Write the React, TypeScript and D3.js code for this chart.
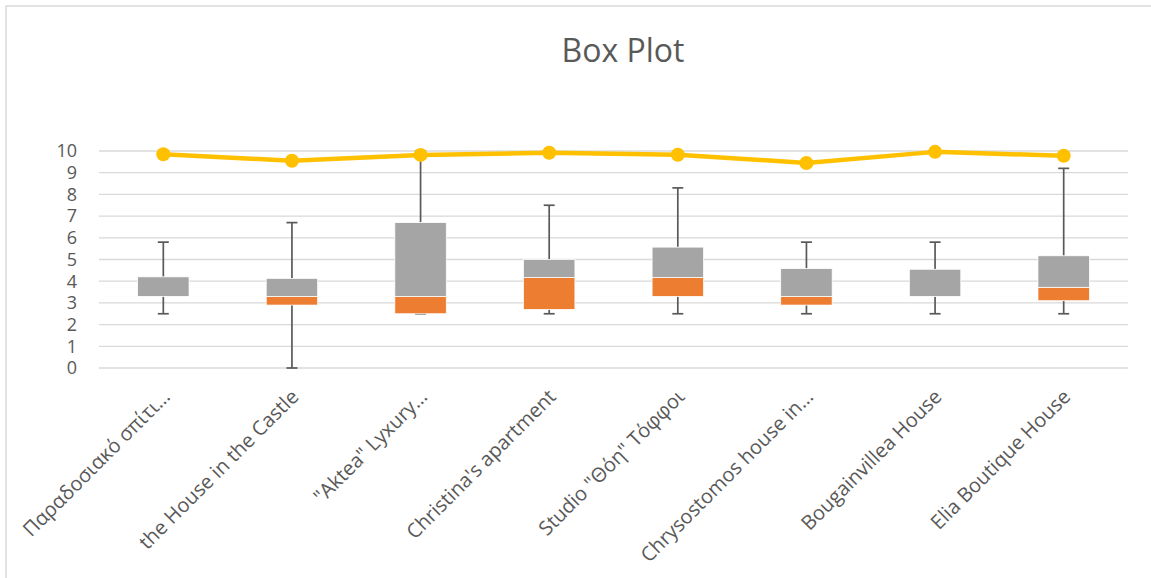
import React, { useEffect, useRef } from 'react';
import * as d3 from 'd3';

const categories = [
  'Παραδοσιακό σπίτι…',
  'the House in the Castle',
  '"Aktea" Lyxury…',
  "Christina's apartment",
  'Studio "Θόη" Τόφφοι',
  'Chrysostomos house in…',
  'Bougainvillea House',
  'Elia Boutique House',
];
const minVals = [2.5, 0, 2.5, 2.5, 2.5, 2.5, 2.5, 2.5];
const q1Vals = [3.3, 2.9, 2.5, 2.7, 3.3, 2.9, 3.3, 3.1];
const medianVals = [3.3, 3.3, 3.3, 4.17, 4.17, 3.3, 3.3, 3.72];
const q3Vals = [4.2, 4.13, 6.7, 5.0, 5.57, 4.58, 4.55, 5.17];
const maxVals = [5.8, 6.7, 10, 7.5, 8.3, 5.8, 5.8, 9.2];
const lineVals = [9.85, 9.55, 9.82, 9.92, 9.83, 9.45, 9.96, 9.78];
const yTicks = [0, 1, 2, 3, 4, 5, 6, 7, 8, 9, 10];

const W = 1151;
const H = 578;
const font = '"Open Sans", sans-serif';
const textColor = '#595959';

export default function App() {
  const ref = useRef<SVGSVGElement>(null);

  useEffect(() => {
    const svg = d3.select(ref.current);
    svg.selectAll('*').remove();

    const x = d3.scaleBand<string>()
      .domain(categories)
      .range([99, 1128])
      .paddingInner(0.6)
      .paddingOuter(0.3);
    const y = d3.scaleLinear().domain([0, 10]).range([368, 151]);
    const cx = (i: number) => (x(categories[i]) as number) + x.bandwidth() / 2;

    // chart border
    svg.append('rect')
      .attr('x', 6).attr('y', 6)
      .attr('width', 1200).attr('height', 700)
      .attr('fill', 'white')
      .attr('stroke', '#d9d9d9')
      .attr('stroke-width', 1.5);

    // title
    svg.append('text')
      .attr('x', 623).attr('y', 62)
      .attr('text-anchor', 'middle')
      .attr('font-family', font)
      .attr('font-size', 32)
      .attr('fill', textColor)
      .text('Box Plot');

    // gridlines
    svg.append('g')
      .selectAll('line')
      .data(yTicks)
      .enter()
      .append('line')
      .attr('x1', 99).attr('x2', 1128)
      .attr('y1', d => y(d)).attr('y2', d => y(d))
      .attr('stroke', '#d9d9d9')
      .attr('stroke-width', 1.3);

    // y tick labels
    svg.append('g')
      .selectAll('text')
      .data(yTicks)
      .enter()
      .append('text')
      .attr('x', 77)
      .attr('y', d => y(d))
      .attr('dy', '0.35em')
      .attr('text-anchor', 'end')
      .attr('font-family', font)
      .attr('font-size', 18)
      .attr('fill', textColor)
      .text(d => d);

    const idx = d3.range(categories.length);

    // whiskers (behind boxes)
    const wg = svg.append('g').attr('stroke', '#595959').attr('stroke-width', 1.7);
    idx.forEach(i => {
      wg.append('line')
        .attr('x1', cx(i)).attr('x2', cx(i))
        .attr('y1', y(q3Vals[i])).attr('y2', y(maxVals[i]));
      wg.append('line')
        .attr('x1', cx(i)).attr('x2', cx(i))
        .attr('y1', y(q1Vals[i])).attr('y2', y(minVals[i]));
      [minVals[i], maxVals[i]].forEach(v => {
        wg.append('line')
          .attr('x1', cx(i) - 5.5).attr('x2', cx(i) + 5.5)
          .attr('y1', y(v)).attr('y2', y(v));
      });
    });

    // boxes: orange = Q1..median, gray = median..Q3
    svg.append('g')
      .selectAll('rect')
      .data(idx)
      .enter()
      .append('rect')
      .attr('x', i => x(categories[i]) as number)
      .attr('width', x.bandwidth())
      .attr('y', i => y(medianVals[i]))
      .attr('height', i => y(q1Vals[i]) - y(medianVals[i]))
      .attr('fill', '#ed7d31')
      .attr('stroke', '#fff')
      .attr('stroke-width', 0.75);

    svg.append('g')
      .selectAll('rect')
      .data(idx)
      .enter()
      .append('rect')
      .attr('x', i => x(categories[i]) as number)
      .attr('width', x.bandwidth())
      .attr('y', i => y(q3Vals[i]))
      .attr('height', i => y(medianVals[i]) - y(q3Vals[i]))
      .attr('fill', '#a5a5a5')
      .attr('stroke', '#fff')
      .attr('stroke-width', 0.75);

    // yellow line with markers
    const line = d3.line<number>().x(i => cx(i)).y(i => y(lineVals[i]));
    svg.append('path')
      .datum(idx)
      .attr('d', line)
      .attr('fill', 'none')
      .attr('stroke', '#ffc000')
      .attr('stroke-width', 4.5)
      .attr('stroke-linejoin', 'round');
    svg.append('g')
      .selectAll('circle')
      .data(idx)
      .enter()
      .append('circle')
      .attr('cx', i => cx(i))
      .attr('cy', i => y(lineVals[i]))
      .attr('r', 7)
      .attr('fill', '#ffc000');

    // category labels
    svg.append('g')
      .selectAll('text')
      .data(idx)
      .enter()
      .append('text')
      .attr('transform', i => `translate(${cx(i) + 3},${393}) rotate(-45)`)
      .attr('text-anchor', 'end')
      .attr('dy', '0.35em')
      .attr('font-family', font)
      .attr('font-size', 20)
      .attr('fill', textColor)
      .text(i => categories[i]);
  }, []);

  return (
    <svg ref={ref} width={W} height={H} style={{ position: 'absolute', left: 0, top: 0, background: 'white' }} />
  );
}
